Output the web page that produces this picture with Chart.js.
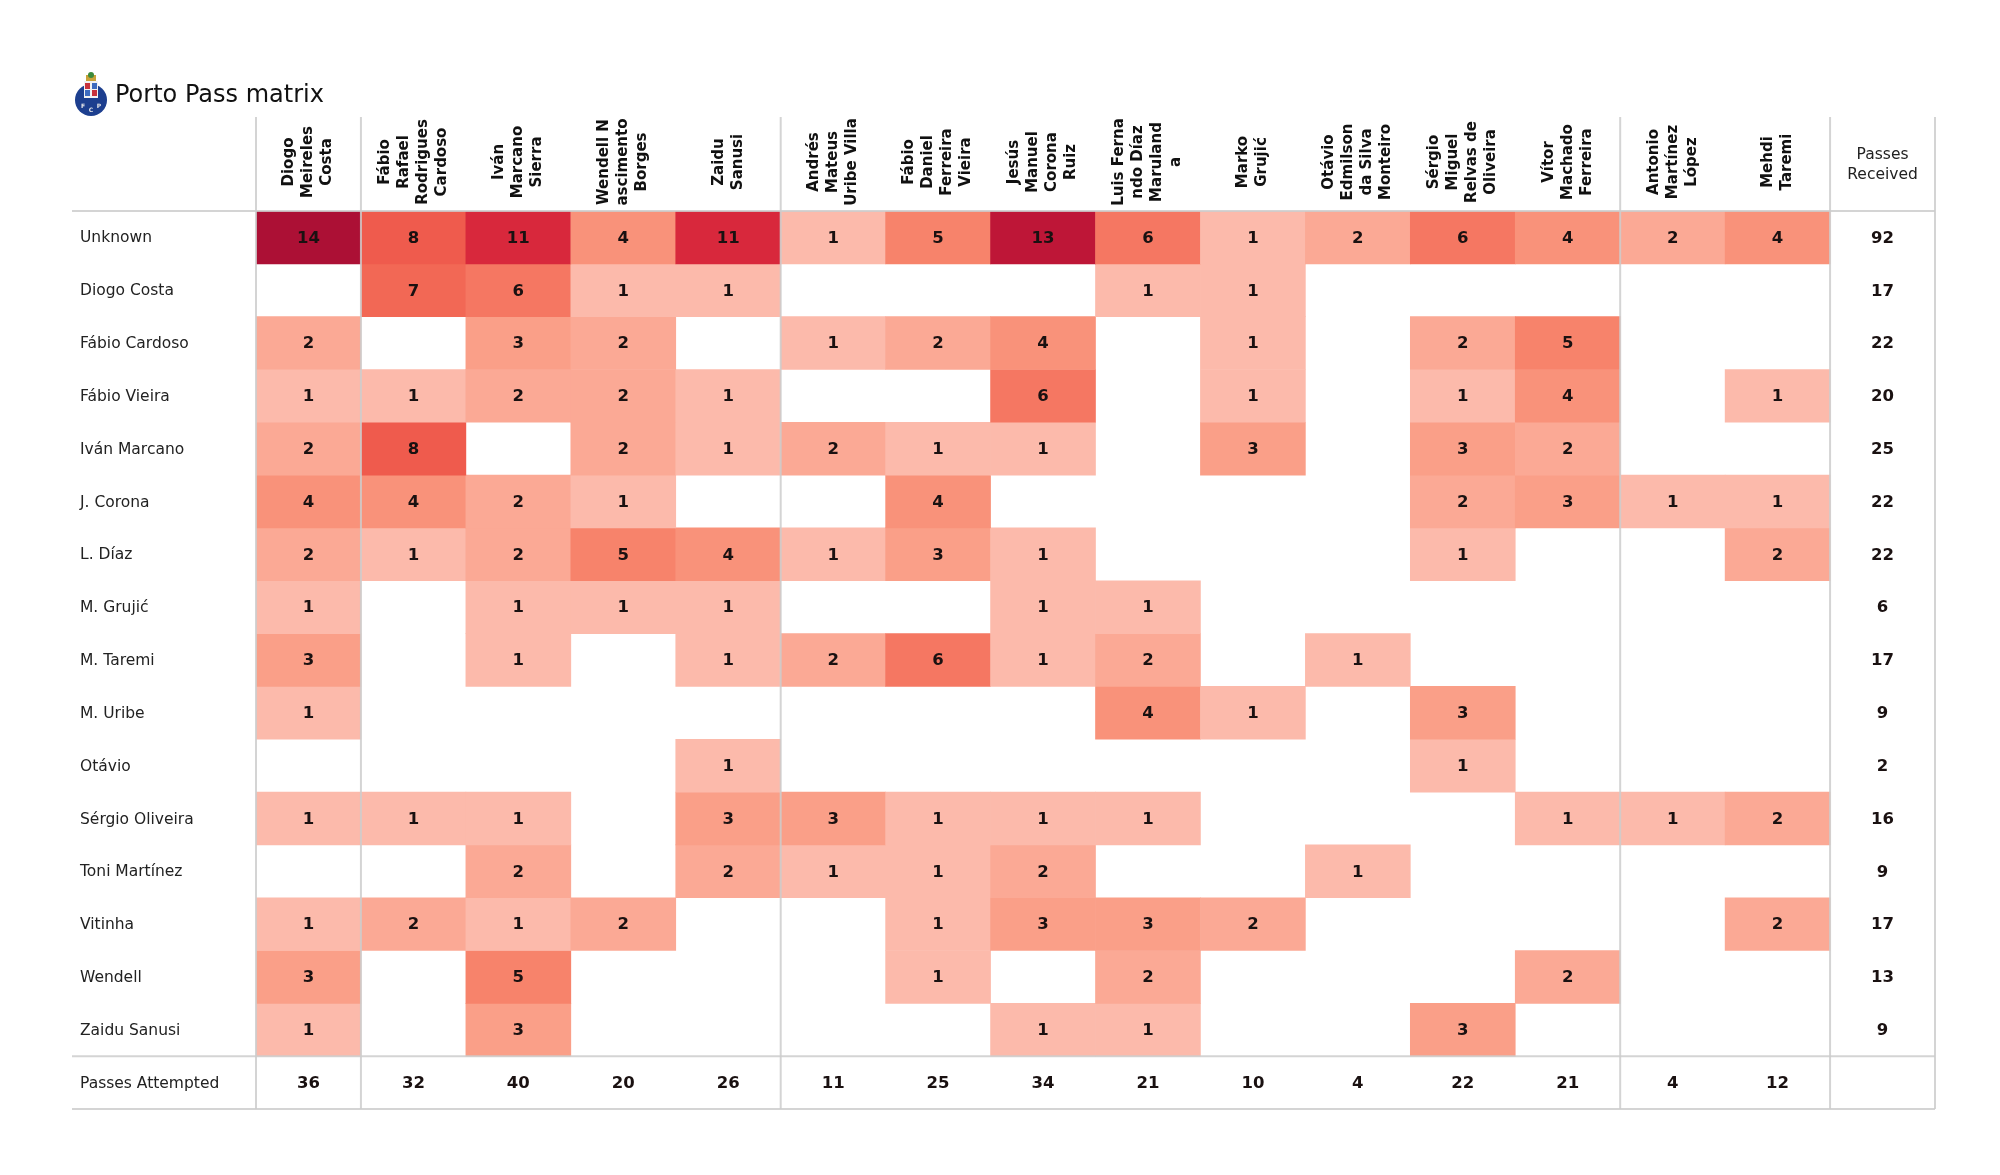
<!DOCTYPE html>
<html>
<head>
<meta charset="utf-8">
<script src="https://cdn.jsdelivr.net/npm/chart.js@4.4.0/dist/chart.umd.min.js"></script>
<style>
  body { margin: 0; background: #ffffff; }
  #pass-matrix { display: block; }
</style>
</head>
<body>
<canvas id="pass-matrix" width="2000" height="1175"></canvas>
<script>
// receivers (columns), header lines as they are wrapped in the picture
const receivers = [
    ['Diogo', 'Meireles', 'Costa'],
    ['Fábio', 'Rafael', 'Rodrigues', 'Cardoso'],
    ['Iván', 'Marcano', 'Sierra'],
    ['Wendell N', 'ascimento', 'Borges'],
    ['Zaidu', 'Sanusi'],
    ['Andrés', 'Mateus', 'Uribe Villa'],
    ['Fábio', 'Daniel', 'Ferreira', 'Vieira'],
    ['Jesús', 'Manuel', 'Corona', 'Ruiz'],
    ['Luis Ferna', 'ndo Díaz', 'Maruland', 'a'],
    ['Marko', 'Grujić'],
    ['Otávio', 'Edmilson', 'da Silva', 'Monteiro'],
    ['Sérgio', 'Miguel', 'Relvas de', 'Oliveira'],
    ['Vítor', 'Machado', 'Ferreira'],
    ['Antonio', 'Martínez', 'López'],
    ['Mehdi', 'Taremi']
];

// passers (rows)
const passers = ['Unknown', 'Diogo Costa', 'Fábio Cardoso', 'Fábio Vieira', 'Iván Marcano', 'J. Corona',
    'L. Díaz', 'M. Grujić', 'M. Taremi', 'M. Uribe', 'Otávio', 'Sérgio Oliveira', 'Toni Martínez',
    'Vitinha', 'Wendell', 'Zaidu Sanusi'];

// passes from row player to column player
const passes = [
    [14, 8, 11, 4, 11, 1, 5, 13, 6, 1, 2, 6, 4, 2, 4],
    [0, 7, 6, 1, 1, 0, 0, 0, 1, 1, 0, 0, 0, 0, 0],
    [2, 0, 3, 2, 0, 1, 2, 4, 0, 1, 0, 2, 5, 0, 0],
    [1, 1, 2, 2, 1, 0, 0, 6, 0, 1, 0, 1, 4, 0, 1],
    [2, 8, 0, 2, 1, 2, 1, 1, 0, 3, 0, 3, 2, 0, 0],
    [4, 4, 2, 1, 0, 0, 4, 0, 0, 0, 0, 2, 3, 1, 1],
    [2, 1, 2, 5, 4, 1, 3, 1, 0, 0, 0, 1, 0, 0, 2],
    [1, 0, 1, 1, 1, 0, 0, 1, 1, 0, 0, 0, 0, 0, 0],
    [3, 0, 1, 0, 1, 2, 6, 1, 2, 0, 1, 0, 0, 0, 0],
    [1, 0, 0, 0, 0, 0, 0, 0, 4, 1, 0, 3, 0, 0, 0],
    [0, 0, 0, 0, 1, 0, 0, 0, 0, 0, 0, 1, 0, 0, 0],
    [1, 1, 1, 0, 3, 3, 1, 1, 1, 0, 0, 0, 1, 1, 2],
    [0, 0, 2, 0, 2, 1, 1, 2, 0, 0, 1, 0, 0, 0, 0],
    [1, 2, 1, 2, 0, 0, 1, 3, 3, 2, 0, 0, 0, 0, 2],
    [3, 0, 5, 0, 0, 0, 1, 0, 2, 0, 0, 0, 2, 0, 0],
    [1, 0, 3, 0, 0, 0, 0, 1, 1, 0, 0, 3, 0, 0, 0]
];

const passesReceived = [92, 17, 22, 20, 25, 22, 22, 6, 17, 9, 2, 16, 9, 17, 13, 9];
const passesAttempted = [36, 32, 40, 20, 26, 11, 25, 34, 21, 10, 4, 22, 21, 4, 12];

// colour anchors (value -> rgb)
const colorStops = [
    [1, [252, 186, 171]], [2, [251, 169, 149]], [3, [250, 159, 136]], [4, [249, 146, 122]],
    [5, [247, 131, 107]], [6, [245, 119, 98]], [7, [242, 104, 85]], [8, [239, 91, 77]],
    [11, [216, 40, 60]], [13, [190, 22, 55]], [14, [172, 16, 53]]
];

function cellColor(v) {
    for (let i = 0; i < colorStops.length - 1; i++) {
        const [a, ca] = colorStops[i];
        const [b, cb] = colorStops[i + 1];
        if (v >= a && v <= b) {
            const t = (v - a) / (b - a);
            const c = ca.map((x, k) => Math.round(x + (cb[k] - x) * t));
            return `rgb(${c[0]},${c[1]},${c[2]})`;
        }
    }
    const last = colorStops[colorStops.length - 1][1];
    return `rgb(${last[0]},${last[1]},${last[2]})`;
}

const FONT = '"DejaVu Sans", Verdana, sans-serif';
const labels = receivers.map(l => l.join(' ')).concat(['Passes Received']);

// one floating-bar dataset per passer row
const datasets = passers.map((name, r) => ({
    label: name,
    data: passes[r].map(v => (v > 0 ? [r - 0.5, r + 0.5] : null)).concat([null]),
    backgroundColor: passes[r].map(v => cellColor(v)).concat(['#ffffff']),
    borderWidth: 0,
    barPercentage: 1,
    categoryPercentage: 1,
    grouped: false
}));

const tablePlugin = {
    id: 'tableDecor',
    afterDatasetsDraw(chart) {
        const ctx = chart.ctx;
        const xs = chart.scales.x;
        const ys = chart.scales.y;
        const area = chart.chartArea;
        const colW = xs.getPixelForValue(1) - xs.getPixelForValue(0);
        const lineLeft = 72;

        ctx.save();
        // grid lines
        ctx.strokeStyle = 'rgba(205,205,205,0.85)';
        ctx.lineWidth = 2;
        [0, 1, 5, 13, 15, 16].forEach(k => {
            const x = xs.getPixelForValue(k) - colW / 2;
            ctx.beginPath();
            ctx.moveTo(x, 117);
            ctx.lineTo(x, area.bottom);
            ctx.stroke();
        });
        [-0.5, 15.5, 16.5].forEach(v => {
            const y = ys.getPixelForValue(v);
            ctx.beginPath();
            ctx.moveTo(lineLeft, y);
            ctx.lineTo(area.right, y);
            ctx.stroke();
        });

        // cell values
        ctx.fillStyle = '#1a1111';
        ctx.font = 'bold 16.5px ' + FONT;
        ctx.textAlign = 'center';
        ctx.textBaseline = 'middle';
        passers.forEach((name, r) => {
            const y = ys.getPixelForValue(r) + 1;
            passes[r].forEach((v, c) => {
                if (v > 0) ctx.fillText(String(v), xs.getPixelForValue(c), y);
            });
            ctx.fillText(String(passesReceived[r]), xs.getPixelForValue(15), y);
        });
        const yAtt = ys.getPixelForValue(16) + 1;
        passesAttempted.forEach((v, c) => ctx.fillText(String(v), xs.getPixelForValue(c), yAtt));

        // row labels
        ctx.fillStyle = '#222222';
        ctx.font = '15.5px ' + FONT;
        ctx.textAlign = 'left';
        passers.concat(['Passes Attempted']).forEach((name, r) => {
            ctx.fillText(name, 80, ys.getPixelForValue(r) + 1);
        });

        // column headers, rotated
        ctx.fillStyle = '#111111';
        ctx.font = 'bold 15px ' + FONT;
        ctx.textAlign = 'center';
        receivers.forEach((lines, c) => {
            const cx = xs.getPixelForValue(c);
            lines.forEach((line, j) => {
                const off = (j - (lines.length - 1) / 2) * 19;
                ctx.save();
                ctx.translate(cx + off, 162);
                ctx.rotate(-Math.PI / 2);
                ctx.fillText(line, 0, 0);
                ctx.restore();
            });
        });
        ctx.font = '15.5px ' + FONT;
        ctx.fillStyle = '#222222';
        const rx = xs.getPixelForValue(15);
        ctx.fillText('Passes', rx, 155);
        ctx.fillText('Received', rx, 175);

        // title
        ctx.font = '24px ' + FONT;
        ctx.textAlign = 'left';
        ctx.fillStyle = '#111111';
        ctx.fillText('Porto Pass matrix', 115, 96);

        // crest
        ctx.fillStyle = '#1d3f8f';
        ctx.beginPath();
        ctx.arc(91, 100, 16, 0, Math.PI * 2);
        ctx.fill();
        ctx.fillStyle = '#f2f2f2';
        ctx.fillRect(84, 81, 14, 17);
        ctx.fillStyle = '#c8323c';
        ctx.fillRect(85, 83, 5, 6);
        ctx.fillStyle = '#3d6bbf';
        ctx.fillRect(92, 83, 5, 6);
        ctx.fillRect(85, 90, 5, 6);
        ctx.fillStyle = '#c8323c';
        ctx.fillRect(92, 90, 5, 6);
        ctx.fillStyle = '#c9a23a';
        ctx.fillRect(86, 75, 10, 6);
        ctx.fillStyle = '#3b8a3b';
        ctx.beginPath();
        ctx.arc(91, 75, 3, 0, Math.PI * 2);
        ctx.fill();
        ctx.fillStyle = '#e8e8e8';
        ctx.font = 'bold 6px ' + FONT;
        ctx.textAlign = 'center';
        ctx.fillText('F', 83, 106);
        ctx.fillText('C', 91, 110);
        ctx.fillText('P', 99, 106);
        ctx.restore();
    }
};

new Chart(document.getElementById('pass-matrix').getContext('2d'), {
    type: 'bar',
    data: { labels: labels, datasets: datasets },
    options: {
        responsive: false,
        animation: false,
        layout: { padding: { left: 256, right: 65, top: 211, bottom: 66 } },
        plugins: { legend: { display: false }, tooltip: { enabled: false } },
        scales: {
            x: { type: 'category', offset: true, display: false, grid: { display: false } },
            y: { type: 'linear', min: -0.5, max: 16.5, reverse: true, display: false, grid: { display: false } }
        }
    },
    plugins: [tablePlugin]
});
</script>
</body>
</html>
